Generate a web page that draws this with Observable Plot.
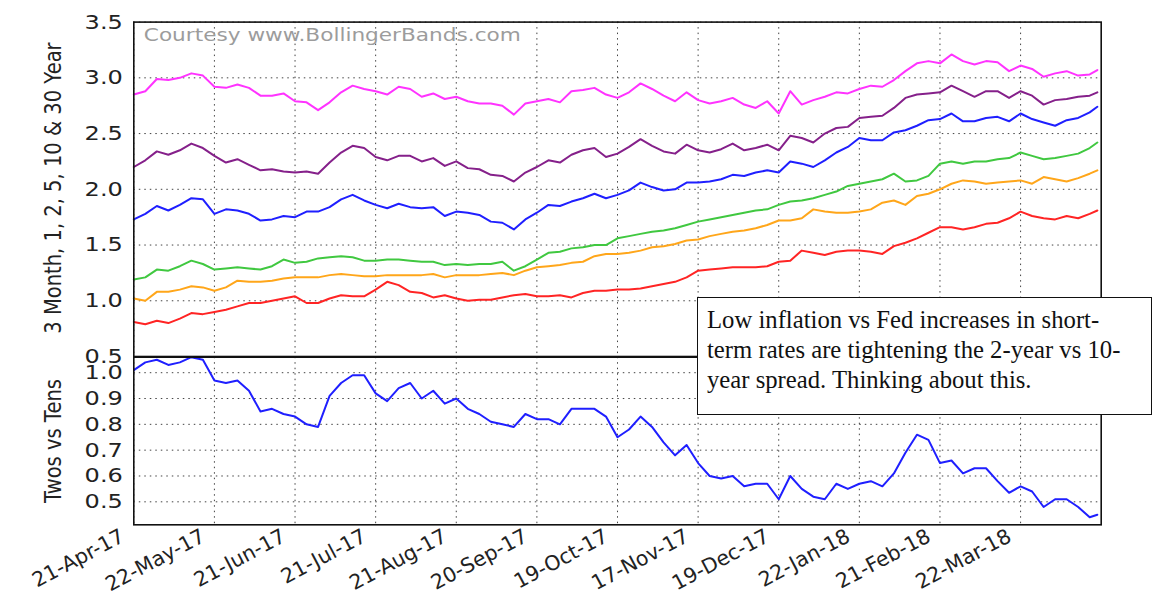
<!DOCTYPE html>
<html><head><meta charset="utf-8">
<script src="https://cdn.jsdelivr.net/npm/d3@7"></script>
<script src="https://cdn.jsdelivr.net/npm/@observablehq/plot@0.6"></script>
<style>
body{margin:0;background:#fff;}
#wrap{position:relative;width:1156px;height:594px;overflow:hidden;background:#fff;font-family:"DejaVu Sans",sans-serif;}
#top,#bot{position:absolute;left:0;}
#top{top:0;z-index:1}
#bot{top:356px;z-index:2}
.ylab{position:absolute;font-size:19.5px;color:#222;white-space:nowrap;transform:translate(-50%,-50%) rotate(-90deg) scaleY(1.22);z-index:3}
#note{position:absolute;left:697px;top:297px;width:455px;height:118px;border:1.5px solid #111;background:#fff;z-index:5;
  font-family:"Liberation Serif","Times New Roman",serif;font-size:24.7px;line-height:30px;color:#111;padding:7px 0 0 9px;box-sizing:border-box;white-space:nowrap;}
</style></head>
<body>
<div id="wrap">
  <div id="top"></div>
  <div id="bot"></div>
  <div class="ylab" style="left:53px;top:188px">3 Month, 1, 2, 5, 10 &amp; 30 Year</div>
  <div class="ylab" style="left:53px;top:441px">Twos vs Tens</div>
  <div id="note">Low inflation vs Fed increases in short-<br>term rates are tightening the 2-year vs 10-<br>year spread. Thinking about this.</div>
</div>
<script>
// trading-day index of each sample (every 3rd trading day, last day = 251)
const idx = d3.range(0, 250, 3).concat([251]);
const tickIdx = [0, 21, 42, 63, 84, 105, 126, 147, 168, 189, 210, 231];
const xLabels = ["21-Apr-17","22-May-17","21-Jun-17","21-Jul-17","21-Aug-17","20-Sep-17","19-Oct-17","17-Nov-17","19-Dec-17","22-Jan-18","21-Feb-18","22-Mar-18"];
const yTopTicks = [0.5, 1.0, 1.5, 2.0, 2.5, 3.0, 3.5];
const yBotTicks = [0.5, 0.6, 0.7, 0.8, 0.9, 1.0];

const y30 = [2.85,2.88,2.99,2.98,3.00,3.04,3.02,2.92,2.91,2.94,
  2.91,2.84,2.84,2.86,2.79,2.78,2.71,2.78,2.87,2.93,
  2.90,2.88,2.85,2.92,2.90,2.83,2.86,2.81,2.83,2.79,
  2.77,2.77,2.75,2.67,2.77,2.79,2.81,2.78,2.88,2.89,
  2.91,2.85,2.82,2.87,2.95,2.90,2.84,2.79,2.87,2.80,
  2.77,2.79,2.82,2.76,2.73,2.79,2.68,2.88,2.76,2.80,
  2.83,2.87,2.86,2.90,2.93,2.92,2.98,3.06,3.13,3.15,
  3.13,3.21,3.15,3.12,3.15,3.14,3.06,3.11,3.08,3.01,
  3.04,3.06,3.02,3.03,3.07];
const y10 = [2.20,2.26,2.34,2.31,2.35,2.41,2.37,2.30,2.24,2.27,
  2.22,2.17,2.18,2.16,2.15,2.16,2.14,2.24,2.33,2.39,
  2.37,2.29,2.26,2.30,2.30,2.25,2.28,2.21,2.25,2.19,
  2.18,2.13,2.12,2.07,2.15,2.20,2.26,2.24,2.31,2.35,
  2.37,2.29,2.32,2.38,2.45,2.39,2.34,2.32,2.40,2.35,
  2.33,2.36,2.41,2.35,2.37,2.40,2.35,2.48,2.46,2.42,
  2.50,2.55,2.56,2.64,2.65,2.66,2.73,2.82,2.85,2.86,
  2.87,2.93,2.88,2.83,2.88,2.88,2.82,2.88,2.84,2.76,
  2.80,2.81,2.83,2.84,2.87];
const y5 = [1.73,1.78,1.85,1.81,1.86,1.92,1.91,1.78,1.82,1.81,
  1.78,1.72,1.73,1.76,1.75,1.80,1.80,1.84,1.91,1.95,
  1.90,1.86,1.83,1.87,1.84,1.83,1.84,1.76,1.80,1.79,
  1.77,1.71,1.70,1.64,1.73,1.79,1.86,1.85,1.89,1.92,
  1.96,1.92,1.95,1.99,2.06,2.02,1.99,2.00,2.06,2.06,
  2.07,2.09,2.13,2.12,2.15,2.17,2.15,2.25,2.23,2.20,
  2.26,2.33,2.38,2.46,2.44,2.44,2.51,2.53,2.57,2.62,
  2.63,2.68,2.61,2.61,2.64,2.65,2.61,2.68,2.63,2.60,
  2.57,2.62,2.64,2.69,2.74];
const y2 = [1.19,1.21,1.28,1.27,1.31,1.36,1.33,1.28,1.29,1.30,
  1.29,1.28,1.31,1.37,1.34,1.35,1.38,1.39,1.40,1.39,
  1.36,1.36,1.37,1.37,1.36,1.35,1.35,1.32,1.33,1.32,
  1.33,1.33,1.35,1.27,1.31,1.37,1.43,1.44,1.47,1.48,
  1.50,1.50,1.56,1.58,1.60,1.62,1.63,1.65,1.68,1.71,
  1.73,1.75,1.77,1.79,1.81,1.82,1.86,1.89,1.90,1.92,
  1.95,1.98,2.03,2.05,2.07,2.09,2.14,2.07,2.08,2.12,
  2.23,2.25,2.23,2.25,2.25,2.27,2.28,2.33,2.30,2.27,
  2.28,2.30,2.32,2.37,2.42];
const y1 = [1.02,1.00,1.08,1.08,1.10,1.13,1.12,1.09,1.12,1.18,
  1.17,1.17,1.18,1.20,1.21,1.21,1.21,1.23,1.24,1.23,
  1.22,1.22,1.23,1.23,1.23,1.23,1.24,1.21,1.23,1.23,
  1.23,1.24,1.25,1.23,1.27,1.30,1.31,1.32,1.34,1.35,
  1.40,1.42,1.42,1.43,1.45,1.48,1.49,1.51,1.54,1.55,
  1.58,1.60,1.62,1.63,1.65,1.68,1.72,1.72,1.74,1.82,
  1.80,1.79,1.79,1.80,1.82,1.88,1.90,1.86,1.94,1.96,
  2.00,2.05,2.08,2.07,2.05,2.06,2.07,2.08,2.05,2.11,
  2.09,2.07,2.10,2.14,2.17];
const y3m = [0.81,0.79,0.82,0.80,0.84,0.89,0.88,0.90,0.92,0.95,
  0.98,0.98,1.00,1.02,1.04,0.98,0.98,1.02,1.05,1.04,
  1.04,1.10,1.17,1.14,1.08,1.07,1.03,1.05,1.02,1.00,
  1.01,1.01,1.03,1.05,1.06,1.04,1.04,1.05,1.03,1.07,
  1.09,1.09,1.10,1.10,1.11,1.13,1.15,1.17,1.21,1.27,
  1.28,1.29,1.30,1.30,1.30,1.31,1.35,1.36,1.45,1.43,
  1.41,1.44,1.45,1.45,1.44,1.42,1.49,1.52,1.56,1.61,
  1.66,1.66,1.64,1.66,1.69,1.70,1.74,1.80,1.76,1.74,
  1.73,1.76,1.74,1.78,1.81];
const spread = [1.01,1.04,1.05,1.03,1.04,1.06,1.05,0.97,0.96,0.97,
  0.93,0.85,0.86,0.84,0.83,0.80,0.79,0.91,0.96,0.99,
  0.99,0.92,0.89,0.94,0.96,0.90,0.93,0.88,0.90,0.86,
  0.84,0.81,0.80,0.79,0.84,0.82,0.82,0.80,0.86,0.86,
  0.86,0.83,0.75,0.78,0.83,0.79,0.73,0.68,0.72,0.65,
  0.60,0.59,0.60,0.56,0.57,0.57,0.51,0.60,0.55,0.52,
  0.51,0.57,0.55,0.57,0.58,0.56,0.61,0.69,0.76,0.74,
  0.65,0.66,0.61,0.63,0.63,0.58,0.535,0.56,0.54,0.48,
  0.51,0.51,0.48,0.44,0.45];

const seriesNames = ["30 Year","10 Year","5 Year","2 Year","1 Year","3 Month"];
const seriesVals = [y30, y10, y5, y2, y1, y3m];
const seriesColors = ["#ff33ff","#85208a","#1f1fff","#40c840","#ffa61a","#ff2424"];

const common = {
  width: 1156, marginLeft: 133.3, marginRight: 55.3,
  style: {fontFamily: '"DejaVu Sans", sans-serif', fontSize: "20px", color: "#222", background: "transparent", overflow: "visible"}
};
const gridStyle = {stroke: "#222", strokeOpacity: 0.85, strokeWidth: 1, strokeDasharray: "1.5,4"};
const fmt = d3.format(".1f");

const topChart = Plot.plot({
  ...common, height: 357, marginTop: 21.6, marginBottom: 1,
  x: {domain: [0, 252], axis: null},
  y: {domain: [0.5, 3.5]},
  marks: [
    Plot.gridX(tickIdx, gridStyle),
    Plot.gridY(yTopTicks, gridStyle),
    ...seriesVals.map((vals, k) => Plot.line(vals, {x: idx, y: vals, stroke: seriesColors[k], strokeWidth: 2, title: () => seriesNames[k]})),
    Plot.frame({stroke: "#111", strokeWidth: 1.6}),
    Plot.text(["Courtesy www.BollingerBands.com"], {frameAnchor: "top-left", textAnchor: "start", lineAnchor: "top", dx: 10, dy: 7, fill: "#9c9c9c", fontSize: 17}),
    Plot.axisY({ticks: yTopTicks, tickFormat: fmt, tickSize: 0, tickPadding: 11, label: null, fontSize: 20})
  ]
});
document.getElementById("top").appendChild(topChart);

const botChart = Plot.plot({
  ...common, height: 238, marginTop: 0.7, marginBottom: 69.7,
  x: {domain: [0, 252]},
  y: {domain: [0.411, 1.06]},
  marks: [
    Plot.gridX(tickIdx, gridStyle),
    Plot.gridY(yBotTicks, gridStyle),
    Plot.line(spread, {x: idx, y: spread, stroke: "#1f1fff", strokeWidth: 2, clip: true}),
    Plot.frame({stroke: "#111", strokeWidth: 1.6}),
    Plot.axisY({ticks: yBotTicks, tickFormat: fmt, tickSize: 0, tickPadding: 11, label: null, fontSize: 20}),
    Plot.axisX({ticks: tickIdx, tickFormat: d => xLabels[tickIdx.indexOf(d)], tickRotate: -28, tickSize: 0, tickPadding: 10, dx: -11, label: null, fontSize: 20.5})
  ]
});
document.getElementById("bot").appendChild(botChart);

// emulate the reference's horizontally stretched lettering
document.querySelectorAll('g[aria-label="y-axis tick label"] text').forEach(t => {
  const L = t.getComputedTextLength();
  t.setAttribute("textLength", (L * 1.2).toFixed(1));
  t.setAttribute("lengthAdjust", "spacingAndGlyphs");
});
document.querySelectorAll('#top g[aria-label="text"] text').forEach(t => {
  t.setAttribute("textLength", "377");
  t.setAttribute("lengthAdjust", "spacingAndGlyphs");
});
</script>
</body></html>
